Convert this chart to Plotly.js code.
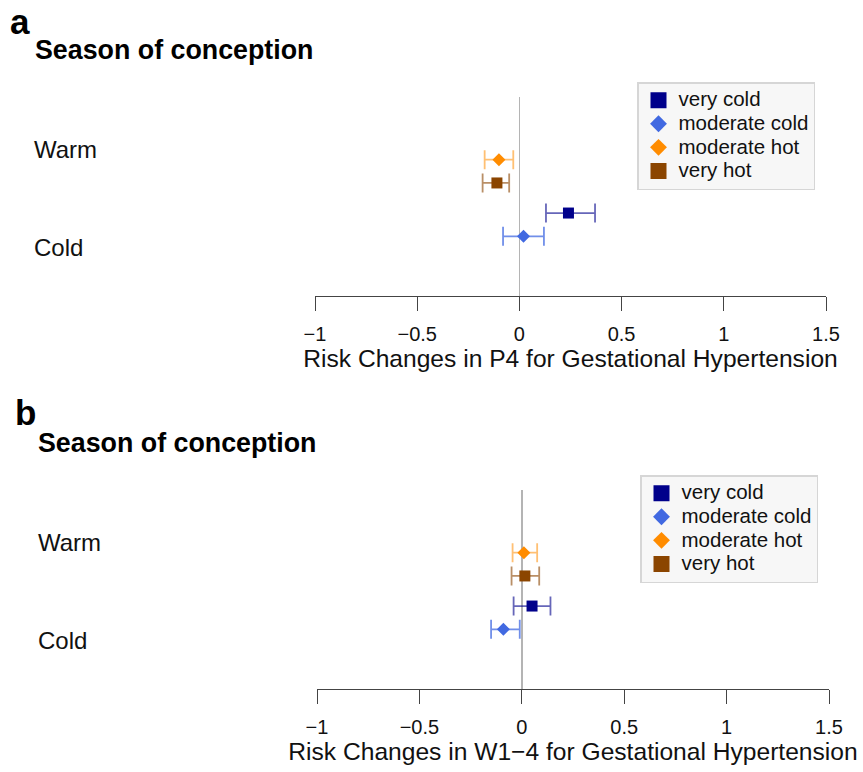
<!DOCTYPE html>
<html><head><meta charset="utf-8">
<script src="https://cdn.plot.ly/plotly-3.0.1.min.js"></script>
<style>html,body{margin:0;padding:0;background:#fff}</style>
</head><body><div id="chart" style="width:863px;height:772px"></div>
<script>
// ---- data ----
const seasons = ['Warm', 'Cold'];
const seriesNames = ['very cold', 'moderate cold', 'moderate hot', 'very hot'];
const seriesSeason = ['Cold', 'Cold', 'Warm', 'Warm'];
// panel a: P4
const p4Est  = [0.24, 0.02, -0.10, -0.11];
const p4Low  = [0.13, -0.08, -0.17, -0.18];
const p4High = [0.37, 0.12, -0.03, -0.05];
// panel b: W1-4
const w14Est  = [0.05, -0.09, 0.01, 0.015];
const w14Low  = [-0.04, -0.15, -0.045, -0.05];
const w14High = [0.14, -0.01, 0.075, 0.085];
const xTickVals = [-1, -0.5, 0, 0.5, 1, 1.5];
const xTickText = ['\u22121', '\u22120.5', '0', '0.5', '1', '1.5'];
const panelTitles = ['Risk Changes in P4 for Gestational Hypertension', 'Risk Changes in W1\u22124 for Gestational Hypertension'];
const panelLetters = ['a', 'b'];
const groupTitle = 'Season of conception';

// ---- styles ----
const colors = ['#00008B', '#4169E1', '#FF8C00', '#8B4500'];
const errColors = ['rgba(0,0,139,0.6)', 'rgba(65,105,225,0.75)', 'rgba(255,140,0,0.55)', 'rgba(139,69,0,0.6)'];
const symbols = ['square', 'diamond', 'diamond', 'square'];
const sizes = [11, 10, 10, 11];
const legSizes = [16, 13, 13, 16];
const offsets = [0.35, 0.11, -0.10, -0.34];
const seasonPos = {Warm: 2, Cold: 1};
const FONT = 'Liberation Sans, Arial, Helvetica, sans-serif';
const W = 863, H = 772;

const panels = [
  {est: p4Est, low: p4Low, high: p4High, xa: 'x', ya: 'y', leg: 'legend',
   xd: [315, 826], yd: [97, 296]},
  {est: w14Est, low: w14Low, high: w14High, xa: 'x2', ya: 'y2', leg: 'legend2',
   xd: [317, 829], yd: [490, 689]}
];

const traces = [];
panels.forEach((p, pi) => {
  seriesNames.forEach((nm, i) => {
    traces.push({
      type: 'scatter', mode: 'markers', name: nm,
      x: [p.est[i]], y: [seasonPos[seriesSeason[i]] + offsets[i]],
      xaxis: p.xa, yaxis: p.ya, showlegend: false,
      marker: {symbol: symbols[i], size: sizes[i], color: colors[i], line: {width: 0}},
      error_x: {type: 'data', symmetric: false,
        array: [p.high[i] - p.est[i]], arrayminus: [p.est[i] - p.low[i]],
        color: errColors[i], thickness: 1.8, width: 9.5},
      hoverinfo: 'x+name'
    });
  });
  seriesNames.forEach((nm, i) => {
    traces.push({
      type: 'scatter', mode: 'markers',
      name: '<span style="font-size:20.5px">' + nm + '</span>', x: [null], y: [null],
      xaxis: p.xa, yaxis: p.ya, legend: p.leg, showlegend: true,
      marker: {symbol: symbols[i], size: legSizes[i], color: colors[i], line: {width: 0}}
    });
  });
});

function axX(p, title) {
  return {
    domain: [p.xd[0] / W, p.xd[1] / W], anchor: p.ya === 'y' ? 'y' : 'y2',
    range: [-1, 1.5], tickvals: xTickVals, ticktext: xTickText,
    ticks: 'outside', ticklen: 14, tickwidth: 1, tickcolor: '#444',
    showline: true, linecolor: '#444', linewidth: 1,
    showgrid: false, zeroline: true, zerolinecolor: '#b4b4b4', zerolinewidth: 1.6,
    tickfont: {family: FONT, size: 20, color: '#111'}, ticklabelstandoff: 6,
    title: {text: title, font: {family: FONT, size: 24.6, color: '#111'}, standoff: 5},
    fixedrange: true
  };
}
function axY(p) {
  return {
    domain: [1 - p.yd[1] / H, 1 - p.yd[0] / H], anchor: p.xa,
    range: [0.495, 2.546], showline: false, showticklabels: false,
    showgrid: false, zeroline: false, ticks: '', fixedrange: true
  };
}

const annotations = [];
const letterPos = [[8, 22], [13, 412]];
const titlePos = [[33, 50], [36, 443]];
const labelX = [32, 36];
panels.forEach((p, pi) => {
  annotations.push({xref: 'paper', yref: 'paper', x: letterPos[pi][0] / W, y: 1 - letterPos[pi][1] / H,
    xanchor: 'left', yanchor: 'middle', showarrow: false, text: '<b>' + panelLetters[pi] + '</b>',
    font: {family: FONT, size: 35, color: '#000'}});
  annotations.push({xref: 'paper', yref: 'paper', x: titlePos[pi][0] / W, y: 1 - titlePos[pi][1] / H,
    xanchor: 'left', yanchor: 'middle', showarrow: false, text: '<b>' + groupTitle + '</b>',
    font: {family: FONT, size: 26.8, color: '#000'}});
  seasons.forEach(s => {
    annotations.push({xref: 'paper', yref: p.ya, x: labelX[pi] / W, y: seasonPos[s],
      xanchor: 'left', yanchor: 'middle', showarrow: false, text: s,
      font: {family: FONT, size: 24, color: '#111'}});
  });
});

const legStyle = (x, y) => ({
  x: x / W, y: 1 - y / H, xanchor: 'left', yanchor: 'top',
  bgcolor: '#f7f7f7', bordercolor: '#d6d6d6', borderwidth: 1.5,
  font: {family: FONT, size: 15.8, color: '#111'}, tracegroupgap: 0, itemsizing: 'trace'
});

const layout = {
  width: W, height: H, margin: {l: 0, r: 0, t: 0, b: 0},
  paper_bgcolor: '#fff', plot_bgcolor: '#fff',
  xaxis: axX(panels[0], panelTitles[0]), yaxis: axY(panels[0]),
  xaxis2: axX(panels[1], panelTitles[1]), yaxis2: axY(panels[1]),
  legend: legStyle(637, 82), legend2: legStyle(640, 475),
  annotations: annotations, showlegend: true
};

Plotly.newPlot('chart', traces, layout, {displayModeBar: false, staticPlot: true});
</script>
</body></html>
